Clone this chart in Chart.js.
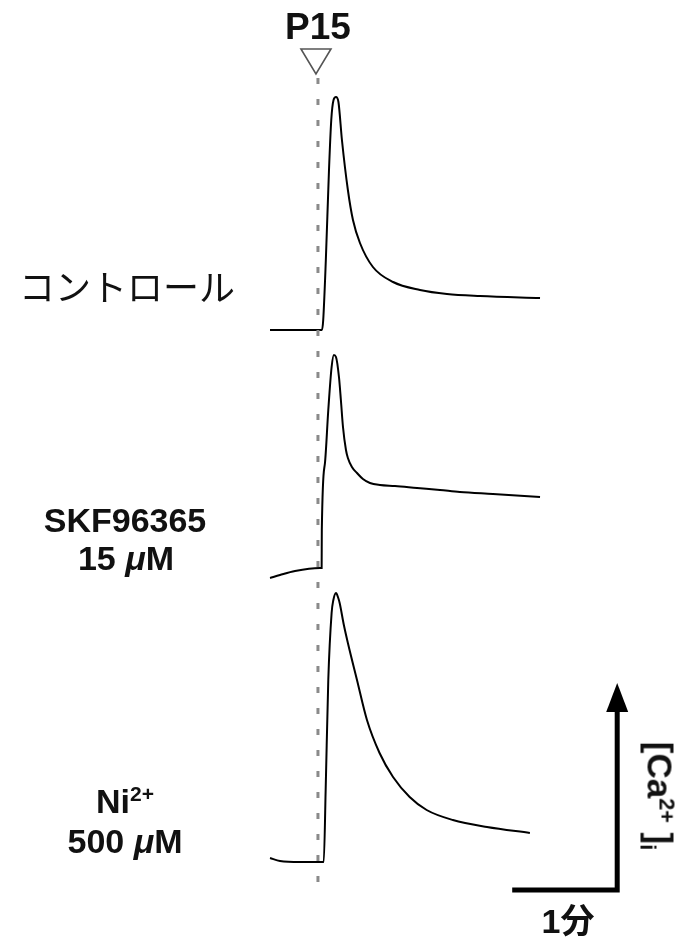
<!DOCTYPE html>
<html>
<head>
<meta charset="utf-8">
<script src="https://cdn.jsdelivr.net/npm/chart.js@4/dist/chart.umd.min.js"></script>
<style>
  body { margin: 0; background: #fff; }
  #wrap { position: relative; width: 690px; height: 939px; overflow: hidden; }
  canvas { position: absolute; left: 0; top: 0; }
  .lab { position: absolute; transform: translate(-50%, -50%); white-space: nowrap;
         font-family: "Liberation Sans", Arial, sans-serif; font-weight: bold;
         font-size: 34px; line-height: 1; color: #111; }
  .jp { font-family: "Noto Sans CJK JP", sans-serif; font-weight: normal; font-size: 36px; }
  .sup { position: relative; top: -0.55em; font-size: 0.62em; }
  .sub { position: relative; top: 0.3em; font-size: 0.62em; }
</style>
</head>
<body>
<div id="wrap">
  <canvas id="trace" width="690" height="939"></canvas>
  <div class="lab" style="left:318px; top:26px; font-size:37px;">P15</div>
  <div class="lab jp" style="left:127px; top:285px;">コントロール</div>
  <div class="lab" style="left:125px; top:520px;">SKF96365</div>
  <div class="lab" style="left:126px; top:558px;">15 <i>μ</i>M</div>
  <div class="lab" style="left:125px; top:801px;">Ni<span class="sup">2+</span></div>
  <div class="lab" style="left:125px; top:841px;">500 <i>μ</i>M</div>
  <div class="lab" style="left:568px; top:920px;">1<span style="font-family:'Noto Sans CJK JP';">分</span></div>
  <div class="lab" style="left:660px; top:796px; font-size:35px; transform: translate(-50%, -50%) rotate(90deg);">[Ca<span class="sup">2+</span> ]<span class="sub">i</span></div>
</div>
<script>
// time in seconds, 0 = P15 application; response in arbitrary units
const controlT = [-27.4, -10, 2.3, 3.0, 4.5, 6.3, 7.6, 8.9, 10.3, 11.7, 13.7, 17.1, 20.0, 24.0, 31.4, 42.9, 58.3, 73.7, 92.6, 126.9];
const controlY = [0, 0, 0, 0.10, 0.70, 1.60, 2.10, 2.30, 2.33, 2.28, 1.90, 1.40, 1.10, 0.87, 0.63, 0.48, 0.40, 0.36, 0.34, 0.32];

const skfT = [-27.4, -21.7, -13.1, 1.1, 2.1, 2.2, 4.0, 5.9, 7.8, 9.1, 10.3, 12.0, 13.1, 14.3, 16.0, 17.1, 19.4, 22.3, 25.7, 29.7, 35.4, 44.0, 56.6, 69.7, 81.1, 100.0, 126.9];
const skfY = [-0.10, -0.07, -0.03, 0, 0, 0.38, 1.05, 1.58, 2.01, 2.13, 2.11, 1.91, 1.68, 1.41, 1.18, 1.10, 1.01, 0.95, 0.89, 0.85, 0.83, 0.82, 0.80, 0.78, 0.76, 0.74, 0.71];

const niT = [-27.4, -21.7, -10.3, 3.3, 4.4, 5.9, 7.8, 8.8, 10.3, 11.6, 12.4, 14.8, 17.1, 22.3, 28.0, 35.2, 42.9, 52.4, 62.1, 77.1, 96.6, 121.1];
const niY = [0.04, 0.01, 0, 0, 0.72, 1.82, 2.49, 2.62, 2.69, 2.64, 2.59, 2.37, 2.19, 1.82, 1.42, 1.09, 0.85, 0.65, 0.52, 0.42, 0.35, 0.29];

// scale bar: 1 min horizontal, vertical arrow (arbitrary units)
const barStart = 111;
const barMinutes = 60;
const barLow = -0.28;
const barHigh = 1.79;

function pts(ts, ys) {
    return ts.map((t, i) => ({ x: t, y: ys[i] }));
}

const overlay = {
    id: 'overlay',
    afterDatasetsDraw(chart) {
        const c = chart.ctx;
        const xs = chart.scales.x;
        const y1 = chart.scales.y1;
        const y3 = chart.scales.y3;
        const x0 = xs.getPixelForValue(0);

        // stimulus line
        c.save();
        c.strokeStyle = '#8a8a8a';
        c.lineWidth = 3;
        c.setLineDash([6, 15]);
        c.beginPath();
        c.moveTo(x0, y1.getPixelForValue(2.52));
        c.lineTo(x0, y3.getPixelForValue(-0.31));
        c.stroke();
        c.restore();

        // triangle marker
        c.save();
        c.strokeStyle = '#555';
        c.lineWidth = 1.6;
        c.beginPath();
        c.moveTo(x0 - 17, 49);
        c.lineTo(x0 + 13, 49);
        c.lineTo(x0 - 2, 74);
        c.closePath();
        c.stroke();
        c.restore();

        // scale bar
        const bx0 = xs.getPixelForValue(barStart);
        const bx1 = xs.getPixelForValue(barStart + barMinutes);
        const by0 = y3.getPixelForValue(barLow);
        const by1 = y3.getPixelForValue(barHigh);
        c.save();
        c.strokeStyle = '#000';
        c.fillStyle = '#000';
        c.lineWidth = 5;
        c.lineCap = 'butt';
        c.beginPath();
        c.moveTo(bx0, by0);
        c.lineTo(bx1, by0);
        c.lineTo(bx1, by1 + 24);
        c.stroke();
        c.beginPath();
        c.moveTo(bx1, by1);
        c.lineTo(bx1 - 11, by1 + 29);
        c.lineTo(bx1 + 11, by1 + 29);
        c.closePath();
        c.fill();
        c.restore();
    }
};

const line = { borderColor: '#000', borderWidth: 2, pointRadius: 0, cubicInterpolationMode: 'monotone', fill: false };

new Chart(document.getElementById('trace').getContext('2d'), {
    type: 'line',
    data: {
        datasets: [
            Object.assign({ label: 'コントロール', data: pts(controlT, controlY), yAxisID: 'y1' }, line),
            Object.assign({ label: 'SKF96365 15 μM', data: pts(skfT, skfY), yAxisID: 'y2' }, line),
            Object.assign({ label: 'Ni2+ 500 μM', data: pts(niT, niY), yAxisID: 'y3' }, line)
        ]
    },
    options: {
        responsive: false,
        animation: false,
        devicePixelRatio: 1,
        layout: { padding: 0 },
        plugins: { legend: { display: false }, tooltip: { enabled: false } },
        scales: {
            x: { type: 'linear', display: false, min: -181.7, max: 212.6 },
            y1: { type: 'linear', display: false, min: -6.09, max: 3.30 },
            y2: { type: 'linear', display: false, min: -3.71, max: 5.68 },
            y3: { type: 'linear', display: false, min: -0.77, max: 8.62 }
        }
    },
    plugins: [overlay]
});
</script>
</body>
</html>
